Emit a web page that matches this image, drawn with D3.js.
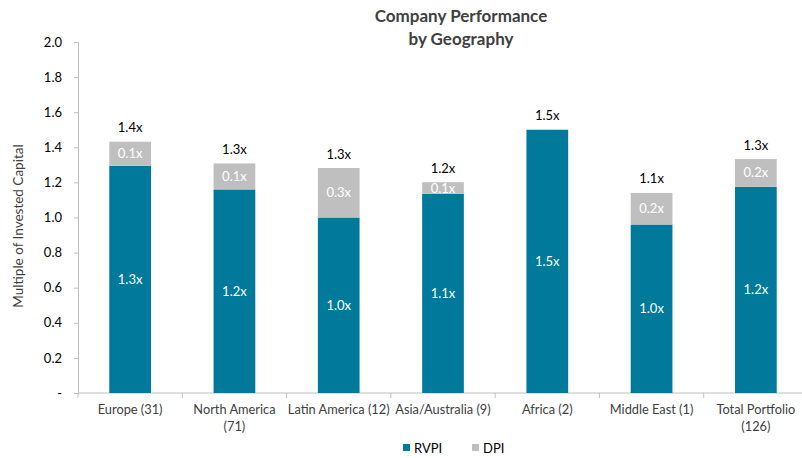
<!DOCTYPE html>
<html>
<head>
<meta charset="utf-8">
<script src="https://cdn.jsdelivr.net/npm/d3@7/dist/d3.min.js"></script>
<style>
  html, body { margin: 0; padding: 0; background: #fff; }
  svg { display: block; font-family: Lato, "Open Sans", sans-serif; }
</style>
</head>
<body>
<svg id="chart" width="802" height="458"></svg>
<script>
// Regions (company counts in parentheses)
const categories = [
  ["Europe (31)"],
  ["North America", "(71)"],
  ["Latin America (12)"],
  ["Asia/Australia (9)"],
  ["Africa (2)"],
  ["Middle East (1)"],
  ["Total Portfolio", "(126)"]
];
// Residual value to paid-in and distributions to paid-in, as multiples
const rvpi = [1.295, 1.16, 1.0, 1.135, 1.5, 0.96, 1.175];
const dpi  = [0.137, 0.148, 0.282, 0.066, 0, 0.18, 0.158];
const yTicks = [0, 0.2, 0.4, 0.6, 0.8, 1.0, 1.2, 1.4, 1.6, 1.8, 2.0];
const seriesNames = ["RVPI", "DPI"];
const colors = { RVPI: "#00799a", DPI: "#bfbfbf" };

const svg = d3.select("#chart");
const plotLeft = 78, plotRight = 808, plotTop = 42, plotBottom = 393;

const x = d3.scaleBand()
  .domain(d3.range(categories.length))
  .range([plotLeft, plotRight])
  .paddingInner(0)
  .paddingOuter(0);
const y = d3.scaleLinear().domain([0, 2.0]).range([plotBottom, plotTop]);
const barW = x.bandwidth() * 0.4;
const fmt = d3.format(".1f");

// Title
svg.append("text")
  .attr("x", 461).attr("y", 22)
  .attr("text-anchor", "middle")
  .attr("font-size", 17).attr("font-weight", "bold").attr("fill", "#404040")
  .selectAll("tspan")
  .data(["Company Performance", "by Geography"])
  .join("tspan")
  .attr("x", 461)
  .attr("dy", (d, i) => i === 0 ? 0 : 23)
  .text(d => d);

// Y axis
const yAxis = svg.append("g")
  .attr("transform", `translate(${plotLeft},0)`)
  .call(d3.axisLeft(y).tickValues(yTicks).tickSize(4).tickPadding(12)
    .tickFormat(d => d === 0 ? "-" : d3.format(".1f")(d)));
yAxis.select(".domain").attr("stroke", "#bfbfbf");
yAxis.selectAll(".tick line").attr("stroke", "#bfbfbf");
yAxis.selectAll(".tick text")
  .attr("font-size", 13).attr("fill", "#000")
  .attr("font-family", "Lato, sans-serif");

// X axis (ticks at category boundaries)
const xg = svg.append("g").attr("transform", `translate(0,${plotBottom})`);
xg.append("line")
  .attr("x1", plotLeft).attr("x2", plotRight)
  .attr("stroke", "#bfbfbf");
xg.selectAll("line.tk")
  .data(d3.range(categories.length + 1))
  .join("line").attr("class", "tk")
  .attr("x1", i => plotLeft + i * x.step())
  .attr("x2", i => plotLeft + i * x.step())
  .attr("y1", 0).attr("y2", 5)
  .attr("stroke", "#bfbfbf");
xg.selectAll("text")
  .data(categories)
  .join("text")
  .attr("text-anchor", "middle")
  .attr("font-size", 12.8).attr("fill", "#404040")
  .each(function (d, i) {
    const t = d3.select(this);
    d.forEach((line, j) => {
      t.append("tspan")
        .attr("x", x(i) + x.bandwidth() / 2)
        .attr("y", 21 + j * 17)
        .text(line);
    });
  });

// Y axis title
svg.append("text")
  .attr("transform", "translate(23,226) rotate(-90)")
  .attr("text-anchor", "middle")
  .attr("font-size", 13.5).attr("fill", "#404040")
  .text("Multiple of Invested Capital");

// Stacked bars
const rows = categories.map((c, i) => ({ i, rvpi: rvpi[i], dpi: dpi[i], total: rvpi[i] + dpi[i] }));
const g = svg.append("g");
const cx = i => x(i) + x.bandwidth() / 2;

g.selectAll("rect.rvpi").data(rows).join("rect").attr("class", "rvpi")
  .attr("x", d => cx(d.i) - barW / 2).attr("width", barW)
  .attr("y", d => y(d.rvpi)).attr("height", d => y(0) - y(d.rvpi))
  .attr("fill", colors.RVPI);

g.selectAll("rect.dpi").data(rows.filter(d => d.dpi > 0)).join("rect").attr("class", "dpi")
  .attr("x", d => cx(d.i) - barW / 2).attr("width", barW)
  .attr("y", d => y(d.total)).attr("height", d => y(d.rvpi) - y(d.total))
  .attr("fill", colors.DPI);

// Segment labels
g.selectAll("text.rl").data(rows).join("text").attr("class", "rl")
  .attr("x", d => cx(d.i)).attr("y", d => (y(d.rvpi) + y(0)) / 2)
  .attr("dy", "0.35em").attr("text-anchor", "middle")
  .attr("font-size", 13).attr("fill", "#fff")
  .text(d => fmt(d.rvpi) + "x");

g.selectAll("text.dl").data(rows.filter(d => d.dpi > 0)).join("text").attr("class", "dl")
  .attr("x", d => cx(d.i)).attr("y", d => (y(d.total) + y(d.rvpi)) / 2)
  .attr("dy", "0.35em").attr("text-anchor", "middle")
  .attr("font-size", 13).attr("fill", "#fff")
  .text(d => fmt(d.dpi) + "x");

// Total labels above each bar
g.selectAll("text.tl").data(rows).join("text").attr("class", "tl")
  .attr("x", d => cx(d.i)).attr("y", d => y(d.total) - 14)
  .attr("dy", "0.35em").attr("text-anchor", "middle")
  .attr("font-size", 13).attr("fill", "#000")
  .text(d => fmt(d.total) + "x");

// Legend
const legend = svg.append("g").attr("transform", "translate(403,444)");
const lx = [0, 69];
seriesNames.forEach((s, k) => {
  const item = legend.append("g").attr("transform", `translate(${lx[k]},0)`);
  item.append("rect").attr("width", 7).attr("height", 7).attr("fill", colors[s]);
  item.append("text").attr("x", 11).attr("y", 4).attr("dy", "0.35em")
    .attr("font-size", 13).attr("fill", "#000").text(s);
});
</script>
</body>
</html>
